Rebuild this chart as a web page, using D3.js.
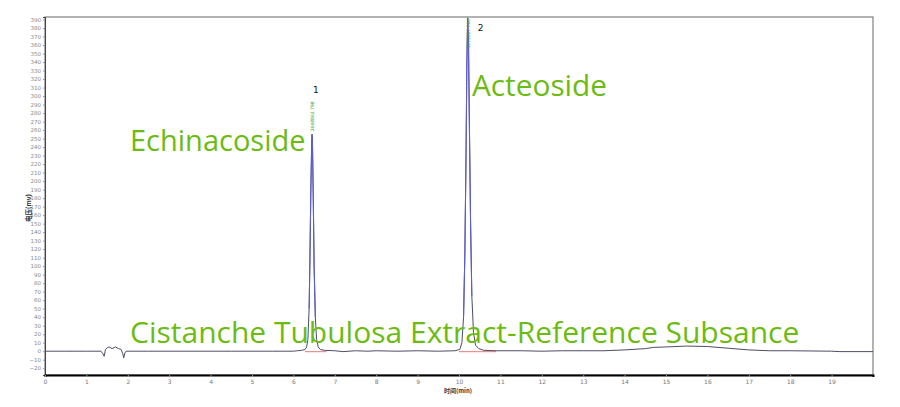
<!DOCTYPE html>
<html><head><meta charset="utf-8">
<script src="https://cdn.jsdelivr.net/npm/d3@7"></script>
<style>body{margin:0;background:#fff}svg{display:block}</style>
</head><body>
<svg id="c" width="900" height="407"></svg>
<script>
// retention time (min) and detector signal (mV)
const time = [0, 0.5, 1.0, 1.35, 1.40, 1.43, 1.46, 1.50, 1.55, 1.62, 1.70, 1.78, 1.84, 1.88, 1.90, 1.93, 1.96, 2.5, 3.5, 4.5, 5.5, 6.0, 6.1, 6.2, 6.28, 6.32, 6.35, 6.38, 6.40, 6.42, 6.44, 6.45, 6.46, 6.48, 6.50, 6.53, 6.56, 6.60, 6.65, 6.75, 7.0, 7.2, 7.5, 7.8, 8.0, 8.5, 9.0, 9.5, 9.9, 10.02, 10.07, 10.11, 10.14, 10.17, 10.19, 10.21, 10.23, 10.25, 10.28, 10.31, 10.35, 10.40, 10.48, 10.6, 10.9, 11.5, 12.0, 12.5, 13.0, 13.5, 14.0, 14.5, 14.7, 15.0, 15.5, 16.0, 16.5, 17.0, 17.5, 18.0, 19.0, 19.2, 20.0];
const signal = [0, 0, 0, 0, -3, -6, 2, 4, 5, 3, 5, 3, 2, -3, -8, -2, 0, 0, 0, 0, 0, 0, 0.5, 1, 2, 5, 14, 50, 110, 185, 240, 255, 245, 180, 100, 40, 14, 5, 2, 1, 0.5, -0.5, 0.5, 0, 0.5, 0, 0.5, 0, 0.5, 2, 10, 40, 110, 230, 340, 392, 360, 270, 150, 65, 22, 7, 3, 1, 0.5, 0.5, 0, 0.5, 0.5, 0.5, 1.5, 3, 4.5, 5, 6, 5.5, 3.5, 1.5, 0.5, 0.5, 0, -0.5, -0.5];
const peakNumbers = ["1", "2"];
const peakTimes = [6.45, 10.21];
const peakHeights = [255, 392];
const peakAreas = ["2668862.798", "4193887.700"];
const baselineStart = [6.28, 10.0];
const baselineEnd = [6.8, 10.9];
const xTicks = d3.range(0, 20);
const yTicks = d3.range(-20, 400, 10);
const compoundNames = ["Echinacoside", "Acteoside"];
const sampleTitle = "Cistanche Tubulosa Extract-Reference Subsance";
const xTitle = "时间(min)";
const yTitle = "电压(mv)";

const svg = d3.select("#c");
const L = 45, R = 873, T = 17, B = 375;
const x = d3.scaleLinear().domain([0, 20]).range([L, R]);
const y = d3.scaleLinear().domain([-28, 393]).range([B, T]);

// frame
svg.append("rect").attr("x", L).attr("y", T).attr("width", R - L).attr("height", B - T)
  .attr("fill", "none").attr("stroke", "#666").attr("stroke-width", 1);

// y axis
const ya = svg.append("g").attr("transform", `translate(${L},0)`)
  .call(d3.axisLeft(y).tickValues(yTicks).tickSize(2).tickPadding(2).tickFormat(d3.format("d")));
ya.select(".domain").attr("stroke", "#444");
ya.selectAll(".tick line").attr("stroke", "#999");
ya.selectAll("text").attr("font-size", 5.5).attr("fill", "#888").attr("font-family", "DejaVu Sans");

// x axis
const xa = svg.append("g").attr("transform", `translate(0,${B})`)
  .call(d3.axisBottom(x).tickValues(xTicks).tickSize(2).tickPadding(3).tickFormat(d3.format("d")));
xa.select(".domain").attr("stroke", "#000").attr("stroke-width", 2);
xa.selectAll(".tick line").attr("stroke", "#999");
xa.selectAll("text").attr("font-size", 6).attr("fill", "#777").attr("font-family", "DejaVu Sans");

svg.append("text").attr("x", 458).attr("y", 393).attr("text-anchor", "middle")
  .attr("font-size", 6).attr("font-weight", "bold").attr("fill", "#333")
  .attr("font-family", "Noto Sans CJK SC").text(xTitle);
svg.append("text").attr("transform", "translate(31,208) rotate(-90)").attr("text-anchor", "middle")
  .attr("font-size", 6.5).attr("font-weight", "bold").attr("fill", "#333")
  .attr("font-family", "Noto Sans CJK SC").text(yTitle);

const pts = time.map((t, i) => ({t, v: signal[i]}));
const line = d3.line().x(d => x(d.t)).y(d => y(d.v));

// integration baselines
peakTimes.forEach((p, i) => {
  svg.append("line").attr("x1", x(baselineStart[i])).attr("x2", x(baselineEnd[i]))
    .attr("y1", y(0) + 0.5).attr("y2", y(0) + 0.5).attr("stroke", "#e07a7a").attr("stroke-width", 1);
});

svg.append("path").datum(pts).attr("d", line).attr("fill", "none")
  .attr("stroke", "#4d4d66").attr("stroke-width", 1);

// peak upper parts in blue, peak numbers and areas
peakTimes.forEach((p, i) => {
  const seg = pts.filter(d => Math.abs(d.t - p) < 0.12 && d.v > 30);
  svg.append("path").datum(seg).attr("d", line).attr("fill", "none")
    .attr("stroke", "#5c5cd6").attr("stroke-width", 1.1);
  const top = y(peakHeights[i]);
  const tall = top < 60;
  svg.append("text").attr("x", x(p) + (tall ? 10 : 1)).attr("y", tall ? top + 13 : top - 41)
    .attr("font-size", 9).attr("fill", "#111").attr("font-family", "DejaVu Sans").text(peakNumbers[i]);
  svg.append("text").attr("transform", `translate(${x(p) + 2},${tall ? top + 31 : top - 3}) rotate(-90)`)
    .attr("font-size", 4.5).attr("fill", "#3c9a3c").attr("font-family", "DejaVu Sans").text(peakAreas[i]);
});

// annotations
const green = "#6cbb12";
svg.append("text").attr("x", 130).attr("y", 151).attr("font-size", 29).attr("fill", green)
  .attr("font-family", "Open Sans").text(compoundNames[0]);
svg.append("text").attr("x", 472).attr("y", 96).attr("font-size", 29.8).attr("fill", green)
  .attr("font-family", "Open Sans").text(compoundNames[1]);
svg.append("text").attr("x", 130).attr("y", 343).attr("font-size", 30).attr("fill", green)
  .attr("font-family", "Open Sans").text(sampleTitle);
</script>
</body></html>
